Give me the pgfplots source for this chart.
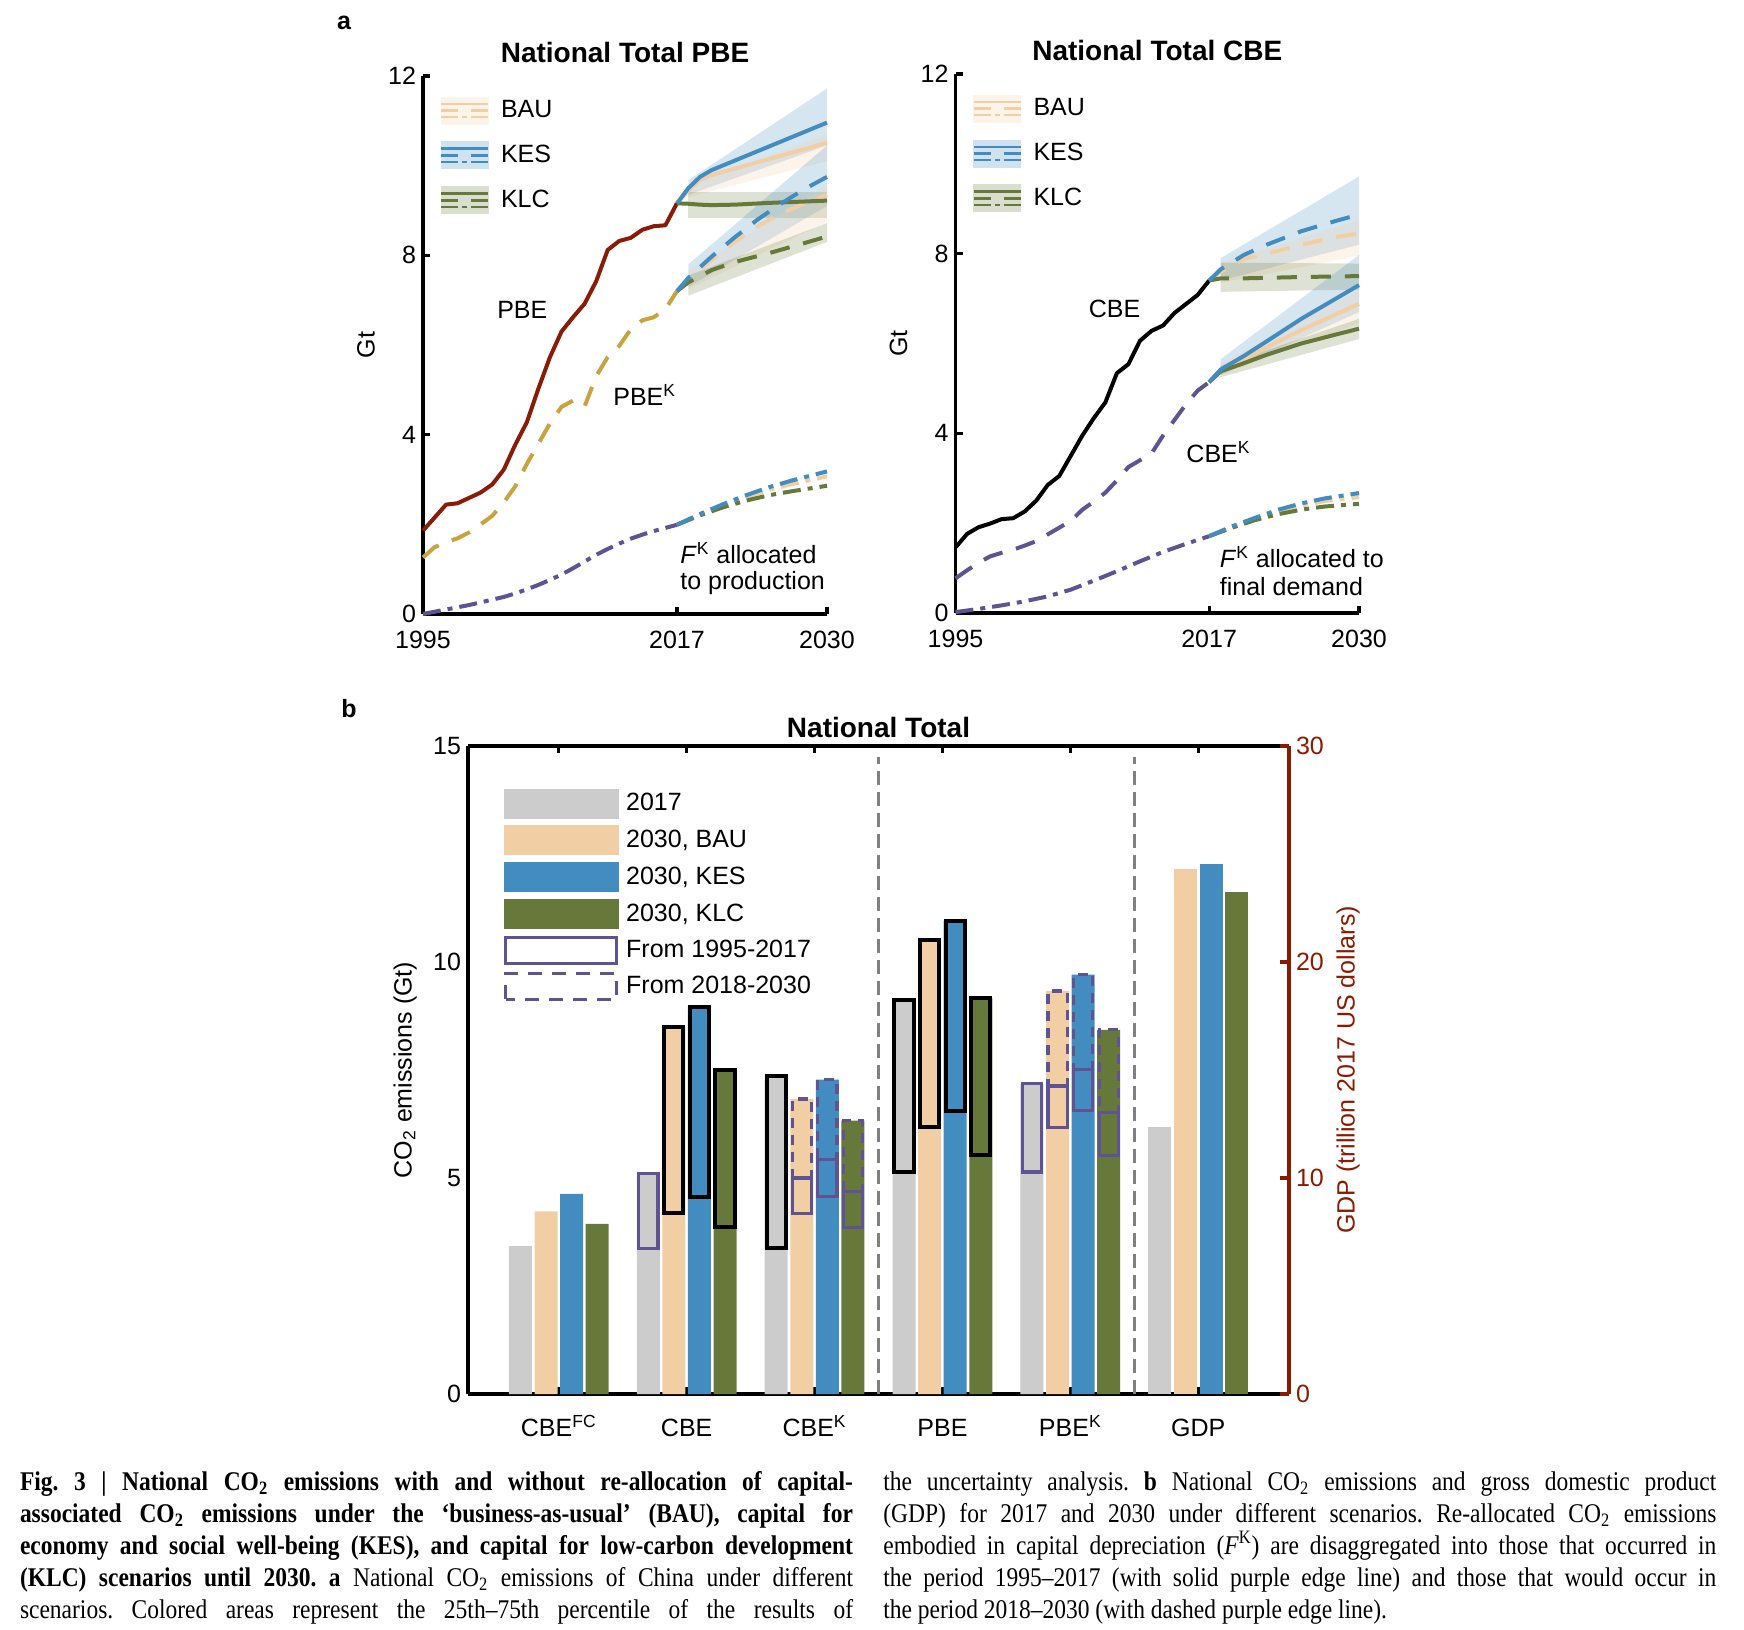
\documentclass[border=0pt]{standalone}
\usepackage{fontspec}
\setmainfont{Liberation Sans}
\newfontfamily\capfont{Liberation Serif}[FakeStretch=0.87]
\usepackage{pgfplots}
\pgfplotsset{compat=1.18}

\definecolor{bau}{HTML}{F2CEA5}
\definecolor{kes}{HTML}{438CBF}
\definecolor{klc}{HTML}{66793A}
\definecolor{g17}{HTML}{CCCCCC}
\definecolor{pbered}{HTML}{8A1C07}
\definecolor{pbek}{HTML}{C9A33F}
\definecolor{fkp}{HTML}{605394}
\definecolor{gdpred}{HTML}{8B1A00}
\definecolor{sepgrey}{HTML}{808080}

\newcommand{\fs}{\fontsize{12.5}{15}\selectfont}
\newcommand{\capline}[1]{\makebox[416.5pt][s]{#1}}

\pgfplotsset{
  sl/.style={line width=2pt, line join=round, forget plot},
  ds/.style={line width=2pt, dash pattern=on 10pt off 7pt, forget plot},
  dd/.style={line width=2pt, dash pattern=on 9pt off 3.5pt on 2.5pt off 3.5pt, forget plot},
  band/.style={draw=none, fill=#1, fill opacity=0.22, forget plot},
  leg/.style={legend image code/.code={
      \fill[#1!25] (0pt,-6.75pt) rectangle (23.5pt,6.75pt);
      \draw[#1, line width=1.3pt] (0pt,3.3pt)--(23.5pt,3.3pt);
      \draw[#1, line width=1.3pt] (0pt,0pt)--(8.5pt,0pt) (15pt,0pt)--(23.5pt,0pt);
      \draw[#1, line width=1.3pt] (0pt,-3.3pt)--(8.5pt,-3.3pt) (10.5pt,-3.3pt)--(13pt,-3.3pt) (15pt,-3.3pt)--(23.5pt,-3.3pt);}},
  panela/.style={
    scale only axis, clip=false, anchor=south west,
    xmin=1995, xmax=2030, ymin=0, ymax=12,
    axis x line*=bottom, axis y line*=left,
    axis line style={line width=1.6pt},
    tick align=inside, major tick length=3.5pt,
    tick style={black, line width=1.6pt},
    xtick={1995,2017,2030}, ytick={0,4,8,12},
    font=\fs,
    /pgf/number format/assume math mode=true,
    xticklabel style={anchor=base, yshift=-17.5pt, /pgf/number format/1000 sep={}},
    ylabel={Gt},
    every axis y label/.style={at={(axis description cs:-0.141,0.5)}, rotate=90, anchor=center},
    title style={at={(axis description cs:0.5,1)}, anchor=base, yshift=0.5pt, font=\bfseries\fontsize{14}{16}\selectfont},
    legend style={at={(axis description cs:0.041,0.9655)}, anchor=north west, draw=none, fill=none,
      inner sep=0pt, row sep=6.75pt, font=\fs, nodes={inner sep=2.75pt},
      /tikz/every odd column/.append style={column sep=3pt}},
    legend cell align=left,
  },
  bk/.style={black, line width=2pt, forget plot},
  ps/.style={fkp, line width=1.6pt, forget plot},
  pd/.style={fkp, line width=1.6pt, dash pattern=on 5pt off 3.5pt, forget plot},
  bar/.style={ybar, bar width=0.18, bar shift=#1, draw=none, forget plot},
}

\begin{document}
\begin{tikzpicture}[font=\fs]
\useasboundingbox (0,0) rectangle (872pt,814.5pt);

\node[font=\bfseries\fs] at (172pt,803pt) {a};
\node[font=\bfseries\fs] at (174.5pt,460pt) {b};

% ---------------- panel a, PBE
\begin{axis}[panela, at={(211.5pt,507.5pt)}, width=202pt, height=269pt, title={National Total PBE}]
\addlegendimage{leg=bau}\addlegendentry{BAU}
\addlegendimage{leg=kes}\addlegendentry{KES}
\addlegendimage{leg=klc}\addlegendentry{KLC}
% uncertainty bands
\addplot[band=kes] coordinates {(2018,9.68) (2030,11.72) (2030,10.45) (2018,9.35)};
\addplot[band=bau] coordinates {(2018,9.55) (2030,10.70) (2030,10.10) (2018,9.30)};
\addplot[band=klc] coordinates {(2018,9.42) (2030,9.42) (2030,8.84) (2018,8.84)};
\addplot[band=kes] coordinates {(2018,7.80) (2030,10.45) (2030,9.10) (2018,7.30)};
\addplot[band=bau] coordinates {(2018,7.65) (2030,9.55) (2030,8.75) (2018,7.25)};
\addplot[band=klc] coordinates {(2018,7.55) (2030,8.72) (2030,8.30) (2018,7.10)};
% history
\addplot[sl, pbered] coordinates {(1995,1.86) (1996,2.15) (1997,2.44) (1998,2.47) (1999,2.59) (2000,2.71)
  (2001,2.89) (2002,3.22) (2003,3.78) (2004,4.28) (2005,5.03) (2006,5.73) (2007,6.30) (2008,6.62)
  (2009,6.92) (2010,7.42) (2011,8.12) (2012,8.32) (2013,8.39) (2014,8.57) (2015,8.65) (2016,8.67) (2017,9.16)};
\addplot[ds, pbek] coordinates {(1995,1.26) (1996,1.49) (1997,1.60) (1998,1.69) (1999,1.82) (2000,2.00)
  (2001,2.19) (2002,2.49) (2003,2.85) (2004,3.35) (2005,3.80) (2006,4.25) (2007,4.62) (2008,4.76)
  (2009,4.63) (2010,5.30) (2011,5.73) (2012,5.98) (2013,6.35) (2014,6.55) (2015,6.62) (2016,6.80) (2017,7.20)};
\addplot[dd, fkp] coordinates {(1995,0.00) (1996,0.05) (1997,0.10) (1998,0.15) (1999,0.20) (2000,0.26)
  (2001,0.32) (2002,0.38) (2003,0.46) (2004,0.55) (2005,0.65) (2006,0.76) (2007,0.88) (2008,1.02)
  (2009,1.17) (2010,1.32) (2011,1.45) (2012,1.57) (2013,1.68) (2014,1.77) (2015,1.85) (2016,1.92) (2017,1.99)};
% scenarios
\addplot[sl, bau] coordinates {(2017,9.16) (2018,9.45) (2019,9.68) (2020,9.79) (2025,10.15) (2030,10.51)};
\addplot[ds, bau] coordinates {(2017,7.20) (2018,7.45) (2020,7.90) (2022,8.30) (2024,8.65) (2026,8.93) (2028,9.15) (2030,9.35)};
\addplot[dd, bau] coordinates {(2017,1.99) (2019,2.22) (2021,2.42) (2023,2.60) (2025,2.77) (2027,2.90) (2030,3.07)};
\addplot[sl, klc] coordinates {(2017,9.16) (2018,9.15) (2019,9.13) (2020,9.12) (2022,9.13) (2025,9.17) (2030,9.22)};
\addplot[ds, klc] coordinates {(2017,7.20) (2018,7.40) (2020,7.67) (2022,7.85) (2025,8.05) (2028,8.27) (2030,8.42)};
\addplot[dd, klc] coordinates {(2017,1.99) (2019,2.20) (2021,2.38) (2023,2.53) (2025,2.65) (2027,2.74) (2030,2.86)};
\addplot[sl, kes] coordinates {(2017,9.16) (2018,9.50) (2019,9.75) (2020,9.90) (2025,10.43) (2030,10.96)};
\addplot[ds, kes] coordinates {(2017,7.20) (2018,7.50) (2020,7.97) (2022,8.40) (2024,8.80) (2026,9.15) (2028,9.47) (2030,9.75)};
\addplot[dd, kes] coordinates {(2017,1.99) (2019,2.23) (2021,2.45) (2023,2.65) (2025,2.83) (2027,2.98) (2030,3.18)};
\node at (axis cs:2003.6,6.78) {PBE};
\node[anchor=west, inner sep=0pt] at (axis cs:2011.46,4.88) {PBE\textsuperscript{K}};
\node[anchor=west, inner sep=0pt] at (axis cs:2017.26,1.36) {\textit{F}\textsuperscript{K} allocated};
\node[anchor=west, inner sep=0pt] at (axis cs:2017.26,0.69) {to production};
\end{axis}

% ---------------- panel a, CBE
\begin{axis}[panela, at={(477.75pt,508pt)}, width=201.75pt, height=269.5pt, title={National Total CBE}]
\addlegendimage{leg=bau}\addlegendentry{BAU}
\addlegendimage{leg=kes}\addlegendentry{KES}
\addlegendimage{leg=klc}\addlegendentry{KLC}
\addplot[band=kes] coordinates {(2018,7.90) (2030,9.72) (2030,8.20) (2018,7.40)};
\addplot[band=bau] coordinates {(2018,7.80) (2030,8.75) (2030,7.95) (2018,7.35)};
\addplot[band=klc] coordinates {(2018,7.80) (2030,7.78) (2030,7.20) (2018,7.15)};
\addplot[band=kes] coordinates {(2018,5.65) (2030,7.97) (2030,6.70) (2018,5.30)};
\addplot[band=bau] coordinates {(2018,5.55) (2030,7.20) (2030,6.45) (2018,5.30)};
\addplot[band=klc] coordinates {(2018,5.50) (2030,6.55) (2030,6.10) (2018,5.25)};
\addplot[sl, black] coordinates {(1995,1.46) (1996,1.76) (1997,1.91) (1998,1.99) (1999,2.09) (2000,2.11)
  (2001,2.26) (2002,2.50) (2003,2.85) (2004,3.05) (2005,3.50) (2006,3.95) (2007,4.34) (2008,4.69)
  (2009,5.34) (2010,5.54) (2011,6.06) (2012,6.28) (2013,6.40) (2014,6.68) (2015,6.88) (2016,7.08) (2017,7.40)};
\addplot[ds, fkp] coordinates {(1995,0.77) (1996,0.95) (1997,1.12) (1998,1.26) (1999,1.34) (2000,1.41)
  (2001,1.50) (2002,1.60) (2003,1.75) (2004,1.90) (2005,2.05) (2006,2.30) (2007,2.48) (2008,2.68)
  (2009,2.95) (2010,3.25) (2011,3.40) (2012,3.55) (2013,3.95) (2014,4.30) (2015,4.65) (2016,4.95) (2017,5.14)};
\addplot[dd, fkp] coordinates {(1995,0.02) (1997,0.09) (1999,0.17) (2001,0.26) (2003,0.37) (2005,0.52)
  (2007,0.72) (2009,0.93) (2011,1.15) (2013,1.36) (2015,1.54) (2017,1.71)};
\addplot[ds, bau] coordinates {(2017,7.40) (2018,7.60) (2020,7.88) (2022,8.00) (2025,8.20) (2028,8.37) (2030,8.45)};
\addplot[sl, bau] coordinates {(2017,5.14) (2018,5.40) (2020,5.65) (2022,5.92) (2025,6.30) (2028,6.65) (2030,6.88)};
\addplot[dd, bau] coordinates {(2017,1.71) (2019,1.92) (2021,2.10) (2023,2.26) (2025,2.39) (2027,2.49) (2030,2.58)};
\addplot[ds, klc] coordinates {(2017,7.40) (2018,7.45) (2020,7.45) (2025,7.48) (2030,7.50)};
\addplot[sl, klc] coordinates {(2017,5.14) (2018,5.38) (2020,5.56) (2022,5.75) (2025,6.00) (2028,6.20) (2030,6.33)};
\addplot[dd, klc] coordinates {(2017,1.71) (2019,1.90) (2021,2.07) (2023,2.20) (2025,2.30) (2027,2.37) (2030,2.43)};
\addplot[ds, kes] coordinates {(2017,7.40) (2018,7.65) (2020,7.97) (2022,8.20) (2025,8.50) (2028,8.73) (2030,8.87)};
\addplot[sl, kes] coordinates {(2017,5.14) (2018,5.42) (2020,5.72) (2022,6.05) (2025,6.55) (2028,7.00) (2030,7.30)};
\addplot[dd, kes] coordinates {(2017,1.71) (2019,1.93) (2021,2.12) (2023,2.30) (2025,2.44) (2027,2.55) (2030,2.67)};
\node at (axis cs:2008.79,6.77) {CBE};
\node[anchor=west, inner sep=0pt] at (axis cs:2015.0,3.58) {CBE\textsuperscript{K}};
\node[anchor=west, inner sep=0pt] at (axis cs:2017.9,1.25) {\textit{F}\textsuperscript{K} allocated to};
\node[anchor=west, inner sep=0pt] at (axis cs:2017.9,0.58) {final demand};
\end{axis}

% ---------------- panel b, emissions
\begin{axis}[scale only axis, at={(234pt,117.5pt)}, anchor=south west, width=410.5pt, height=324pt,
  xmin=-0.71, xmax=5.71, ymin=0, ymax=15,
  axis x line*=box, axis y line*=left,
  axis line style={line width=1.6pt},
  xtick={0,1,2,3,4,5},
  xticklabels={CBE\textsuperscript{FC}, CBE, CBE\textsuperscript{K}, PBE, PBE\textsuperscript{K}, GDP},
  xticklabel style={anchor=base, yshift=-21pt},
  ytick={0,5,10,15}, ytick style={draw=none},
  xtick style={black, line width=1.6pt}, tick align=inside, major tick length=3.5pt,
  font=\fs, /pgf/number format/assume math mode=true,
  title={National Total},
  title style={at={(axis description cs:0.5,1)}, anchor=base, yshift=-1.7pt, font=\bfseries\fontsize{14}{16}\selectfont},
  ylabel={CO\textsubscript{2} emissions (Gt)},
  every axis y label/.style={at={(axis description cs:-0.0767,0.5)}, rotate=90, anchor=center},
  legend style={at={(axis description cs:0.0432,0.935)}, anchor=north west, draw=none, fill=none,
    inner sep=0pt, row sep=3.5pt, font=\fs, nodes={inner sep=1.75pt},
    /tikz/every odd column/.append style={column sep=2pt}},
  legend cell align=left]
\addlegendimage{legend image code/.code={\fill[g17] (0pt,-7.25pt) rectangle (57pt,7.25pt);}}
\addlegendentry{2017}
\addlegendimage{legend image code/.code={\fill[bau] (0pt,-7.25pt) rectangle (57pt,7.25pt);}}
\addlegendentry{2030, BAU}
\addlegendimage{legend image code/.code={\fill[kes] (0pt,-7.25pt) rectangle (57pt,7.25pt);}}
\addlegendentry{2030, KES}
\addlegendimage{legend image code/.code={\fill[klc] (0pt,-7.25pt) rectangle (57pt,7.25pt);}}
\addlegendentry{2030, KLC}
\addlegendimage{legend image code/.code={\draw[fkp, line width=1.6pt] (0.8pt,-6.45pt) rectangle (56.2pt,6.45pt);}}
\addlegendentry{From 1995-2017}
\addlegendimage{legend image code/.code={\draw[fkp, line width=1.6pt, dash pattern=on 7pt off 5pt] (0.8pt,-6.45pt) rectangle (56.2pt,6.45pt);}}
\addlegendentry{From 2018-2030}
% bars: CBE^FC, CBE, CBE^K, PBE, PBE^K
\addplot[bar=-0.3, fill=g17] coordinates {(0,3.43) (1,5.11) (2,7.36) (3,9.13) (4,7.18)};
\addplot[bar=-0.1, fill=bau] coordinates {(0,4.23) (1,8.49) (2,6.83) (3,10.50) (4,9.33)};
\addplot[bar=0.1, fill=kes] coordinates {(0,4.63) (1,8.96) (2,7.28) (3,10.95) (4,9.71)};
\addplot[bar=0.3, fill=klc] coordinates {(0,3.94) (1,7.50) (2,6.33) (3,9.17) (4,8.43)};
% separators
\addplot[sepgrey, line width=1.6pt, dash pattern=on 7pt off 3.5pt, forget plot] coordinates {(2.5,0) (2.5,14.75)};
\addplot[sepgrey, line width=1.6pt, dash pattern=on 7pt off 3.5pt, forget plot] coordinates {(4.5,0) (4.5,14.75)};
% boxes, black
\addplot[bk] coordinates {(0.825,4.18) (0.975,4.18) (0.975,8.49) (0.825,8.49)} --cycle;
\addplot[bk] coordinates {(1.025,4.57) (1.175,4.57) (1.175,8.96) (1.025,8.96)} --cycle;
\addplot[bk] coordinates {(1.225,3.86) (1.375,3.86) (1.375,7.50) (1.225,7.50)} --cycle;
\addplot[bk] coordinates {(1.625,3.37) (1.775,3.37) (1.775,7.36) (1.625,7.36)} --cycle;
\addplot[bk] coordinates {(2.625,5.14) (2.775,5.14) (2.775,9.13) (2.625,9.13)} --cycle;
\addplot[bk] coordinates {(2.825,6.17) (2.975,6.17) (2.975,10.50) (2.825,10.50)} --cycle;
\addplot[bk] coordinates {(3.025,6.56) (3.175,6.56) (3.175,10.95) (3.025,10.95)} --cycle;
\addplot[bk] coordinates {(3.225,5.53) (3.375,5.53) (3.375,9.17) (3.225,9.17)} --cycle;
% boxes, purple solid (1995-2017)
\addplot[ps] coordinates {(0.625,3.37) (0.775,3.37) (0.775,5.11) (0.625,5.11)} --cycle;
\addplot[ps] coordinates {(1.825,4.18) (1.975,4.18) (1.975,5.00) (1.825,5.00)} --cycle;
\addplot[ps] coordinates {(2.025,4.57) (2.175,4.57) (2.175,5.43) (2.025,5.43)} --cycle;
\addplot[ps] coordinates {(2.225,3.86) (2.375,3.86) (2.375,4.68) (2.225,4.68)} --cycle;
\addplot[ps] coordinates {(3.625,5.14) (3.775,5.14) (3.775,7.18) (3.625,7.18)} --cycle;
\addplot[ps] coordinates {(3.825,6.17) (3.975,6.17) (3.975,7.13) (3.825,7.13)} --cycle;
\addplot[ps] coordinates {(4.025,6.56) (4.175,6.56) (4.175,7.52) (4.025,7.52)} --cycle;
\addplot[ps] coordinates {(4.225,5.53) (4.375,5.53) (4.375,6.52) (4.225,6.52)} --cycle;
% boxes, purple dashed (2018-2030)
\addplot[pd] coordinates {(1.825,5.00) (1.975,5.00) (1.975,6.83) (1.825,6.83)} --cycle;
\addplot[pd] coordinates {(2.025,5.43) (2.175,5.43) (2.175,7.28) (2.025,7.28)} --cycle;
\addplot[pd] coordinates {(2.225,4.68) (2.375,4.68) (2.375,6.33) (2.225,6.33)} --cycle;
\addplot[pd] coordinates {(3.825,7.13) (3.975,7.13) (3.975,9.33) (3.825,9.33)} --cycle;
\addplot[pd] coordinates {(4.025,7.52) (4.175,7.52) (4.175,9.71) (4.025,9.71)} --cycle;
\addplot[pd] coordinates {(4.225,6.52) (4.375,6.52) (4.375,8.43) (4.225,8.43)} --cycle;
\end{axis}

% ---------------- panel b, GDP on right axis
\begin{axis}[scale only axis, at={(234pt,117.5pt)}, anchor=south west, width=410.5pt, height=324pt,
  xmin=-0.71, xmax=5.71, ymin=0, ymax=30,
  axis x line=none, axis y line*=right,
  ytick={0,10,20,30}, tick align=inside, major tick length=4.5pt,
  y axis line style={gdpred, line width=1.6pt}, ytick style={gdpred, line width=1.6pt},
  yticklabel style={gdpred}, font=\fs, /pgf/number format/assume math mode=true,
  ylabel={GDP (trillion 2017 US dollars)},
  every axis y label/.style={at={(axis description cs:1.0719,0.5)}, rotate=90, anchor=center, text=gdpred}]
\addplot[bar=-0.3, fill=g17] coordinates {(5,12.34)};
\addplot[bar=-0.1, fill=bau] coordinates {(5,24.30)};
\addplot[bar=0.1, fill=kes] coordinates {(5,24.55)};
\addplot[bar=0.3, fill=klc] coordinates {(5,23.26)};
\end{axis}

% ---------------- caption
\begin{scope}[every node/.style={anchor=base west, inner sep=0pt, font=\capfont\fontsize{13.5}{16}\selectfont\frenchspacing}]
\node at (9.8pt,69.5pt) {\capline{\bfseries Fig. 3 | National CO\textsubscript{2} emissions with and without re-allocation of capital-}};
\node at (9.8pt,53.5pt) {\capline{\bfseries associated CO\textsubscript{2} emissions under the ‘business-as-usual’ (BAU), capital for}};
\node at (9.8pt,37.5pt) {\capline{\bfseries economy and social well-being (KES), and capital for low-carbon development}};
\node at (9.8pt,21.5pt) {\capline{{\bfseries (KLC) scenarios until 2030. a} National CO\textsubscript{2} emissions of China under different}};
\node at (9.8pt,5.5pt) {\capline{scenarios. Colored areas represent the 25th–75th percentile of the results of}};
\node at (441.5pt,69.5pt) {\capline{the uncertainty analysis. {\bfseries b} National CO\textsubscript{2} emissions and gross domestic product}};
\node at (441.5pt,53.5pt) {\capline{(GDP) for 2017 and 2030 under different scenarios. Re-allocated CO\textsubscript{2} emissions}};
\node at (441.5pt,37.5pt) {\capline{embodied in capital depreciation (\textit{F}\textsuperscript{K}) are disaggregated into those that occurred in}};
\node at (441.5pt,21.5pt) {\capline{the period 1995–2017 (with solid purple edge line) and those that would occur in}};
\node at (441.5pt,5.5pt) {the period 2018–2030 (with dashed purple edge line).};
\end{scope}
\end{tikzpicture}
\end{document}
